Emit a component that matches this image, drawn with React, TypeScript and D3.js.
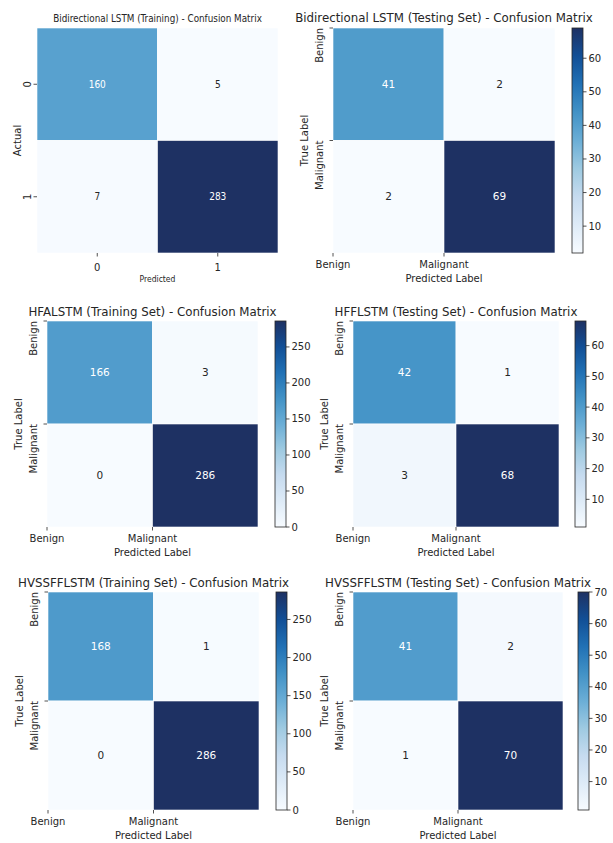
import React from 'react';
import * as d3 from 'd3';

// chart values
const titles = [
  'Bidirectional LSTM (Training) - Confusion Matrix',
  'Bidirectional LSTM (Testing Set) - Confusion Matrix',
  'HFALSTM (Training Set) - Confusion Matrix',
  'HFFLSTM (Testing Set) - Confusion Matrix',
  'HVSSFFLSTM (Training Set) - Confusion Matrix',
  'HVSSFFLSTM (Testing Set) - Confusion Matrix',
];
const matrices = [
  [[160, 5], [7, 283]],
  [[41, 2], [2, 69]],
  [[166, 3], [0, 286]],
  [[42, 1], [3, 68]],
  [[168, 1], [0, 286]],
  [[41, 2], [1, 70]],
];
const binaryLabels = ['0', '1'];
const classLabels = ['Benign', 'Malignant'];
const xTitles = ['Predicted', 'Predicted Label', 'Predicted Label', 'Predicted Label', 'Predicted Label', 'Predicted Label'];
const yTitles = ['Actual', 'True Label', 'True Label', 'True Label', 'True Label', 'True Label'];

// "Blues", with the dark end toned to the picture
const blues = ['#f7fbff', '#deebf7', '#c6dbef', '#9ecae1', '#6baed6', '#4292c6', '#2171b5', '#124f96', '#1e3163'];
const bluesScale = d3.scaleLinear<string>()
  .domain(d3.range(blues.length).map(i => i / (blues.length - 1)))
  .range(blues)
  .interpolate(d3.interpolateRgb)
  .clamp(true);

// layout of each panel (heatmap box, colorbar box, title baseline)
const layout = [
  { x0: 37, x1: 278, y0: 28, y1: 253, cb: null, titleY: 22, simple: true },
  { x0: 333, x1: 555, y0: 28, y1: 253, cb: [572, 583], titleY: 22, simple: false },
  { x0: 47, x1: 258, y0: 321, y1: 527, cb: [275, 286], titleY: 316, simple: false },
  { x0: 353, x1: 559, y0: 321, y1: 527, cb: [575, 586], titleY: 316, simple: false },
  { x0: 48, x1: 259, y0: 592, y1: 810, cb: [276, 287], titleY: 587, simple: false },
  { x0: 353, x1: 563, y0: 592, y1: 810, cb: [578, 589], titleY: 587, simple: false },
];

const FONT = "'DejaVu Sans', sans-serif";
const COND = "'DejaVu Sans Condensed', 'DejaVu Sans', sans-serif";
const INK = '#262626';

function luminance(c: string) {
  const rgb = d3.rgb(c);
  const f = (v: number) => {
    v /= 255;
    return v <= 0.03928 ? v / 12.92 : Math.pow((v + 0.055) / 1.055, 2.4);
  };
  return 0.2126 * f(rgb.r) + 0.7152 * f(rgb.g) + 0.0722 * f(rgb.b);
}

const Panel = ({ idx }: { idx: number }) => {
  const L = layout[idx];
  const m = matrices[idx];
  const flat = m.flat();
  const vmin = d3.min(flat) as number;
  const vmax = d3.max(flat) as number;
  const norm = d3.scaleLinear().domain([vmin, vmax]).range([0, 1]);
  const color = (v: number) => bluesScale(norm(v));

  const x = d3.scaleBand<number>().domain([0, 1]).range([L.x0, L.x1]);
  const y = d3.scaleBand<number>().domain([0, 1]).range([L.y0, L.y1]);
  const cx = (L.x0 + L.x1) / 2;
  const cy = (L.y0 + L.y1) / 2;
  const font = L.simple ? COND : FONT;

  const cells = [];
  for (let r = 0; r < 2; r++) {
    for (let c = 0; c < 2; c++) {
      const v = m[r][c];
      const fill = color(v);
      cells.push(
        <g key={`${r}-${c}`}>
          <rect x={x(c)} y={y(r)} width={x.bandwidth()} height={y.bandwidth()} fill={fill}
            stroke="#ffffff" strokeWidth={0.6} />
          <text x={(x(c) as number) + x.bandwidth() / 2} y={(y(r) as number) + y.bandwidth() / 2}
            dy="0.35em" textAnchor="middle" fontFamily={font} fontSize={L.simple ? 10 : 10.5}
            fill={luminance(fill) < 0.408 ? '#ffffff' : INK}>{v}</text>
        </g>
      );
    }
  }

  // tick positions: centered in simple panel, at band starts otherwise
  const tickX = (i: number) => L.simple ? (x(i) as number) + x.bandwidth() / 2 : (x(i) as number);
  const tickY = (i: number) => L.simple ? (y(i) as number) + y.bandwidth() / 2 : (y(i) as number);
  const labels = L.simple ? binaryLabels : classLabels;

  let colorbar = null;
  if (L.cb) {
    const [bx0, bx1] = L.cb;
    const cs = d3.scaleLinear().domain([vmin, vmax]).range([L.y1, L.y0]);
    const ticks = cs.ticks(7);
    const gid = `grad${idx}`;
    colorbar = (
      <g>
        <defs>
          <linearGradient id={gid} x1="0" y1="1" x2="0" y2="0">
            {blues.map((b, i) => (
              <stop key={i} offset={i / (blues.length - 1)} stopColor={b} />
            ))}
          </linearGradient>
        </defs>
        <rect x={bx0} y={L.y0} width={bx1 - bx0} height={L.y1 - L.y0} fill={`url(#${gid})`}
          stroke={INK} strokeWidth={0.8} />
        {ticks.map(t => (
          <g key={t}>
            <line x1={bx1} x2={bx1 + 3.5} y1={cs(t)} y2={cs(t)} stroke={INK} strokeWidth={0.8} />
            <text x={bx1 + 5.5} y={cs(t)} dy="0.35em" fontFamily={FONT} fontSize={10} fill={INK}>{t}</text>
          </g>
        ))}
      </g>
    );
  }

  return (
    <g>
      <text x={cx} y={L.titleY} textAnchor="middle" fontFamily={font}
        fontSize={L.simple ? 9.8 : 11.8} fill={INK}>{titles[idx]}</text>
      {cells}
      {[0, 1].map(i => (
        <g key={`xt${i}`}>
          <line x1={tickX(i)} x2={tickX(i)} y1={L.y1} y2={L.y1 + 3.5} stroke={INK} strokeWidth={0.8} />
          <text x={tickX(i)} y={L.y1 + (L.simple ? 18 : 15)} textAnchor="middle" fontFamily={FONT}
            fontSize={10} fill={INK}>{labels[i]}</text>
        </g>
      ))}
      {[0, 1].map(i => (
        <g key={`yt${i}`}>
          <line x1={L.x0 - 3.5} x2={L.x0} y1={tickY(i)} y2={tickY(i)} stroke={INK} strokeWidth={0.8} />
          <text transform={`translate(${L.x0 - (L.simple ? 10 : 14)},${tickY(i)}) rotate(-90)`}
            textAnchor={L.simple ? 'middle' : 'end'} dy="0.35em" fontFamily={FONT}
            fontSize={10} fill={INK}>{labels[i]}</text>
        </g>
      ))}
      <text x={cx} y={L.y1 + 29} textAnchor="middle" fontFamily={font}
        fontSize={L.simple ? 8.5 : 10} fill={INK}>{xTitles[idx]}</text>
      <text transform={`translate(${L.x0 - (L.simple ? 20 : 29)},${cy}) rotate(-90)`}
        textAnchor="middle" dy="0.35em" fontFamily={FONT}
        fontSize={10} fill={INK}>{yTitles[idx]}</text>
      {colorbar}
    </g>
  );
};

export default function App() {
  return (
    <svg width={613} height={843} style={{ position: 'absolute', left: 0, top: 0, background: '#ffffff' }}>
      <rect width={613} height={843} fill="#ffffff" />
      {layout.map((_, i) => <Panel key={i} idx={i} />)}
    </svg>
  );
}
